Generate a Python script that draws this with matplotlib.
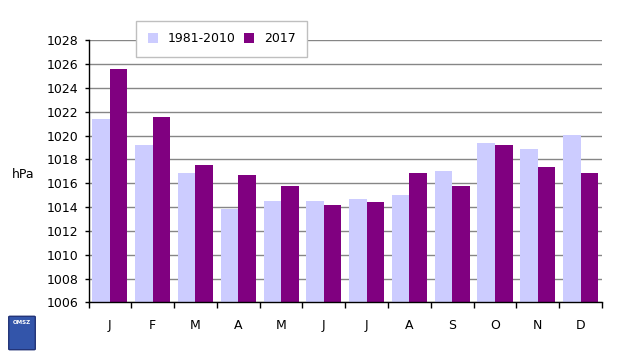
import numpy as np
import matplotlib.pyplot as plt
from matplotlib.patches import FancyBboxPatch

months = ["J", "F", "M", "A", "M", "J", "J", "A", "S", "O", "N", "D"]
normal_1981_2010 = [1021.4, 1019.2, 1016.9, 1013.8, 1014.5, 1014.5, 1014.7, 1015.0, 1017.0, 1019.4, 1018.9, 1020.1]
year_2017 = [1025.6, 1021.6, 1017.5, 1016.7, 1015.8, 1014.2, 1014.4, 1016.9, 1015.8, 1019.2, 1017.4, 1016.9]
y_ticks = list(range(1006, 1029, 2))

plt.rcParams['font.family'] = ['DejaVu Sans']

fig = plt.figure(figsize=(6.4, 3.57), dpi=100)
ax = fig.add_axes([0.1383, 0.1532, 0.8023, 0.7334])

x = np.arange(len(months))
w = 0.41
ax.bar(x - w / 2, np.array(normal_1981_2010) - 1006, width=w, bottom=1006,
       color="#CCCCFF", label="1981-2010", zorder=2)
ax.bar(x + w / 2, np.array(year_2017) - 1006, width=w, bottom=1006,
       color="#800080", label="2017", zorder=2)

ax.set_xlim(-0.5, len(months) - 0.5)
ax.set_ylim(1006, 1028)
ax.set_yticks(y_ticks)
ax.set_yticklabels([str(v) for v in y_ticks], fontsize=9)
ax.yaxis.grid(True, color="#868686", linewidth=1, zorder=0)
ax.set_axisbelow(True)

# category boundary ticks, labels in between
ax.set_xticks(np.arange(-0.5, len(months), 1))
ax.set_xticklabels([])
ax.set_xticks(x, minor=True)
ax.set_xticklabels(months, minor=True, fontsize=9)
ax.tick_params(axis="x", which="minor", length=0, pad=12)
ax.tick_params(axis="x", which="major", length=4, width=1, direction="out")
ax.tick_params(axis="y", length=3, width=1, direction="out", pad=4)

for s in ["top", "right"]:
    ax.spines[s].set_visible(False)
for s in ["left", "bottom"]:
    ax.spines[s].set_color("black")
    ax.spines[s].set_linewidth(1)

fig.text(12 / 640, 1 - 175 / 357, "hPa", fontsize=9, va="center", ha="left")

leg = ax.legend(loc="center", bbox_to_anchor=(130 / 640, 1 - 58 / 357, 183 / 640, 38 / 357),
                bbox_transform=fig.transFigure, ncol=2, frameon=True, fancybox=False,
                fontsize=9, handlelength=0.8, handleheight=0.8, columnspacing=2.0,
                mode="expand", borderpad=0.9, framealpha=1)
leg.get_frame().set_edgecolor("#BFBFBF")
leg.get_frame().set_linewidth(1)
leg.set_zorder(5)

# small OMSZ badge in the lower left corner
badge = FancyBboxPatch((10 / 640, 8 / 357), 24 / 640, 32 / 357, boxstyle="round,pad=0.002",
                       transform=fig.transFigure, facecolor="#3355AA", edgecolor="#223377")
fig.patches.append(badge)
fig.text(22 / 640, 34 / 357, "OMSZ", fontsize=4, color="white", ha="center", va="center",
         weight="bold")

fig.savefig("out.png", dpi=100)
